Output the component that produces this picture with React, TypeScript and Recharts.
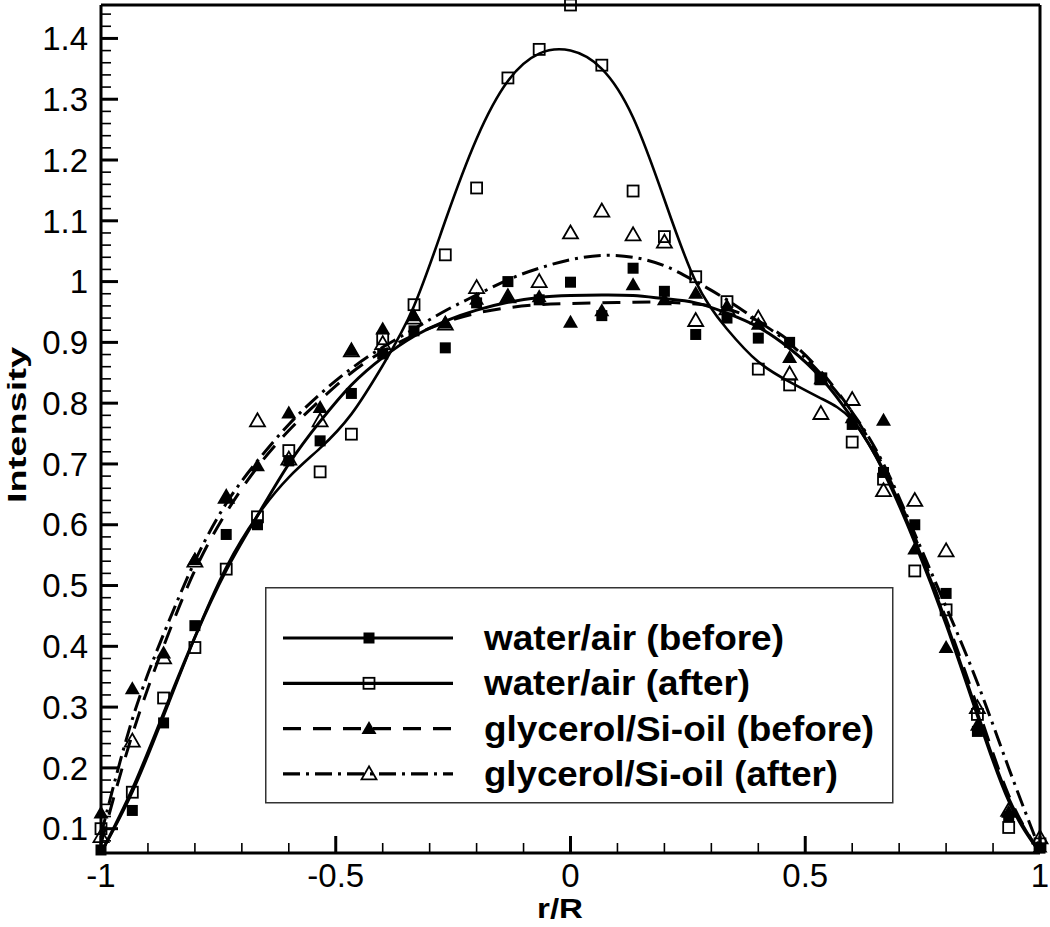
import React from 'react';
import { ComposedChart, Line, XAxis, YAxis, ReferenceLine, Legend } from 'recharts';

// r/R positions of the measured points
const rPos = [
  -1, -0.9333, -0.8667, -0.8, -0.7333, -0.6667, -0.6, -0.5333, -0.4667, -0.4, -0.3333,
  -0.2667, -0.2, -0.1333, -0.0667, 0, 0.0667, 0.1333, 0.2, 0.2667, 0.3333, 0.4, 0.4667,
  0.5333, 0.6, 0.6667, 0.7333, 0.8, 0.8667, 0.9333, 1,
];

// measured intensities (markers)
const waterBefore = [
  0.065, 0.13, 0.274, 0.434, 0.584, 0.6, 0.705, 0.738, 0.816, 0.881, 0.919, 0.891, 0.965,
  1.0, 0.97, 0.999, 0.944, 1.022, 0.984, 0.913, 0.94, 0.907, 0.9, 0.841, 0.765, 0.686, 0.6,
  0.487, 0.26, 0.12, 0.068,
];
const waterAfter = [
  0.1, 0.16, 0.315, 0.398, 0.527, 0.613, 0.722, 0.687, 0.749, 0.906, 0.962, 1.044, 1.154,
  1.335, 1.382, 1.455, 1.356, 1.149, 1.074, 1.008, 0.967, 0.856, 0.83, 0.84, 0.736, 0.675,
  0.524, 0.46, 0.288, 0.102, 0.075,
];
const glyBefore = [
  0.126, 0.33, 0.389, 0.543, 0.645, 0.697, 0.784, 0.793, 0.887, 0.922, 0.944, 0.932, 0.971,
  0.974, 0.975, 0.933, 0.952, 0.995, 0.97, 0.981, 0.96, 0.93, 0.875, 0.84, 0.776, 0.772,
  0.56, 0.398, 0.27, 0.127, 0.07,
];
const glyAfter = [
  0.087, 0.244, 0.381, 0.54, 0.645, 0.771, 0.708, 0.771, 0.886, 0.898, 0.94, 0.93, 0.99,
  0.975, 1.0, 1.08, 1.116, 1.077, 1.065, 0.936, 0.955, 0.94, 0.848, 0.783, 0.806, 0.656,
  0.64, 0.557, 0.299, 0.13, 0.085,
];

// fitted curves at the same r/R positions
const fitWaterBefore = [
  0.06, 0.165, 0.29, 0.415, 0.525, 0.615, 0.7, 0.77, 0.83, 0.875, 0.91, 0.935, 0.953, 0.966,
  0.974, 0.977, 0.978, 0.977, 0.972, 0.965, 0.948, 0.925, 0.89, 0.842, 0.775, 0.69, 0.575,
  0.44, 0.29, 0.15, 0.06,
];
const fitWaterAfter = [
  0.06, 0.16, 0.285, 0.415, 0.53, 0.615, 0.678, 0.726, 0.782, 0.862, 0.96, 1.1, 1.235, 1.33,
  1.375, 1.38, 1.35, 1.27, 1.135, 1.0, 0.922, 0.868, 0.835, 0.808, 0.772, 0.687, 0.57, 0.435,
  0.285, 0.145, 0.06,
];
const fitGlyBefore = [
  0.075, 0.255, 0.4, 0.525, 0.62, 0.695, 0.755, 0.805, 0.85, 0.885, 0.912, 0.933, 0.948,
  0.957, 0.962, 0.964, 0.965, 0.966, 0.966, 0.963, 0.955, 0.935, 0.902, 0.852, 0.785, 0.695,
  0.58, 0.445, 0.3, 0.155, 0.06,
];
const fitGlyAfter = [
  0.09, 0.28, 0.42, 0.54, 0.635, 0.705, 0.765, 0.815, 0.857, 0.892, 0.922, 0.952, 0.978,
  1.003, 1.022, 1.036, 1.043, 1.04, 1.026, 1.0, 0.97, 0.935, 0.898, 0.848, 0.785, 0.7,
  0.585, 0.465, 0.34, 0.2, 0.065,
];

const seriesNames = [
  'water/air (before)',
  'water/air (after)',
  'glycerol/Si-oil (before)',
  'glycerol/Si-oil (after)',
];

const xTicks = [
  -1, -0.9, -0.8, -0.7, -0.6, -0.5, -0.4, -0.3, -0.2, -0.1, 0, 0.1, 0.2, 0.3, 0.4, 0.5, 0.6,
  0.7, 0.8, 0.9, 1,
];
const xLabels = [-1, -0.5, 0, 0.5, 1];
const yLabels = [0.1, 0.2, 0.3, 0.4, 0.5, 0.6, 0.7, 0.8, 0.9, 1, 1.1, 1.2, 1.3, 1.4];
const yMin = 0.06;
const yMax = 1.455;

const yTicks: number[] = [];
for (let k = 3; k <= 72; k++) yTicks.push(Math.round(k * 2) / 100);

const data = rPos.map((r, i) => ({
  r,
  wb: waterBefore[i],
  wa: waterAfter[i],
  gb: glyBefore[i],
  ga: glyAfter[i],
  fwb: fitWaterBefore[i],
  fwa: fitWaterAfter[i],
  fgb: fitGlyBefore[i],
  fga: fitGlyAfter[i],
}));

const FONT = '"Liberation Sans", Arial, sans-serif';
const DASH = '18 12';
const DASHDOT = '17 6 3 6';

const isLabel = (v: number, list: number[]) => list.some((l) => Math.abs(l - v) < 1e-6);

const FilledSquare = ({ cx, cy }: any) => (
  <rect x={cx - 5.5} y={cy - 5.5} width={11} height={11} fill="#000" />
);
const OpenSquare = ({ cx, cy }: any) => (
  <rect x={cx - 5.5} y={cy - 5.5} width={11} height={11} fill="none" stroke="#000" strokeWidth={1.8} />
);
const FilledTriangle = ({ cx, cy }: any) => (
  <polygon points={`${cx},${cy - 7.5} ${cx - 7.5},${cy + 5.5} ${cx + 7.5},${cy + 5.5}`} fill="#000" />
);
const OpenTriangle = ({ cx, cy }: any) => (
  <polygon
    points={`${cx},${cy - 7.5} ${cx - 7.5},${cy + 5.5} ${cx + 7.5},${cy + 5.5}`}
    fill="none"
    stroke="#000"
    strokeWidth={1.8}
  />
);

const markerFor = (Comp: any, tag: string) => (p: any) =>
  p.cx == null || p.cy == null ? <g key={`${tag}-${p.index}`} /> : <Comp key={`${tag}-${p.index}`} cx={p.cx} cy={p.cy} />;

const YTick = (props: any) => {
  const { x, y, payload } = props;
  const major = isLabel(payload.value, yLabels);
  const ax = x + 13;
  return (
    <g>
      <line x1={ax} x2={ax + (major ? 17 : 10)} y1={y} y2={y} stroke="#000" strokeWidth={major ? 3 : 1.6} />
      {major && (
        <text x={x} y={y} dy="0.355em" textAnchor="end" fontFamily={FONT} fontSize={33} fill="#000">
          {String(payload.value)}
        </text>
      )}
    </g>
  );
};

const XTick = (props: any) => {
  const { x, y, payload } = props;
  const major = isLabel(payload.value, xLabels);
  const ay = y - 11;
  return (
    <g>
      <line x1={x} x2={x} y1={ay} y2={ay - (major ? 17 : 10)} stroke="#000" strokeWidth={major ? 3 : 1.6} />
      {major && (
        <text x={x} y={y} dy="0.71em" textAnchor="middle" fontFamily={FONT} fontSize={33} fill="#000">
          {String(payload.value)}
        </text>
      )}
    </g>
  );
};

const legendRows = [
  { name: seriesNames[0], dash: undefined, Marker: FilledSquare, len: 300 },
  { name: seriesNames[1], dash: undefined, Marker: OpenSquare, len: 266 },
  { name: seriesNames[2], dash: DASH, Marker: FilledTriangle, len: 390 },
  { name: seriesNames[3], dash: DASHDOT, Marker: OpenTriangle, len: 354 },
];

const LegendBox = () => (
  <svg width={629} height={217} style={{ display: 'block' }}>
    <rect x={0.75} y={0.75} width={627} height={215} fill="#fff" stroke="#333" strokeWidth={1.5} />
    {legendRows.map((row, i) => {
      const yc = 51 + i * 45.3;
      const M = row.Marker;
      return (
        <g key={row.name}>
          <line x1={18} x2={188} y1={yc} y2={yc} stroke="#000" strokeWidth={3.2} strokeDasharray={row.dash} />
          <M cx={104} cy={yc} />
          <text
            x={219}
            y={yc + 12}
            fontFamily={FONT}
            fontWeight="bold"
            fontSize={35}
            textLength={row.len}
            lengthAdjust="spacingAndGlyphs"
            fill="#000"
          >
            {row.name}
          </text>
        </g>
      );
    })}
  </svg>
);

export default function App() {
  return (
    <div style={{ position: 'absolute', left: 0, top: 0, width: 1050, height: 927, background: '#fff' }}>
      <ComposedChart
        width={1050}
        height={927}
        data={data}
        margin={{ top: 5, right: 10, bottom: 14, left: 41 }}
      >
        <XAxis
          dataKey="r"
          type="number"
          domain={[-1, 1]}
          ticks={xTicks}
          interval={0}
          tickSize={0}
          tickMargin={11}
          height={60}
          axisLine={{ stroke: '#000', strokeWidth: 3 }}
          tickLine={false}
          tick={<XTick />}
        />
        <YAxis
          type="number"
          domain={[yMin, yMax]}
          ticks={yTicks}
          interval={0}
          tickSize={0}
          tickMargin={13}
          width={60}
          axisLine={{ stroke: '#000', strokeWidth: 3 }}
          tickLine={false}
          tick={<YTick />}
        />
        <ReferenceLine y={yMax} stroke="#000" strokeWidth={3} />
        <ReferenceLine x={1} stroke="#000" strokeWidth={3} />

        <Line dataKey="fwb" name={seriesNames[0]} type="natural" stroke="#000" strokeWidth={3} dot={false} activeDot={false} isAnimationActive={false} legendType="none" />
        <Line dataKey="fwa" name={seriesNames[1]} type="natural" stroke="#000" strokeWidth={2.6} dot={false} activeDot={false} isAnimationActive={false} legendType="none" />
        <Line dataKey="fgb" name={seriesNames[2]} type="natural" stroke="#000" strokeWidth={3} strokeDasharray={DASH} dot={false} activeDot={false} isAnimationActive={false} legendType="none" />
        <Line dataKey="fga" name={seriesNames[3]} type="natural" stroke="#000" strokeWidth={3} strokeDasharray={DASHDOT} dot={false} activeDot={false} isAnimationActive={false} legendType="none" />

        <Line dataKey="wb" stroke="none" dot={markerFor(FilledSquare, 'wb')} activeDot={false} isAnimationActive={false} legendType="none" />
        <Line dataKey="wa" stroke="none" dot={markerFor(OpenSquare, 'wa')} activeDot={false} isAnimationActive={false} legendType="none" />
        <Line dataKey="gb" stroke="none" dot={markerFor(FilledTriangle, 'gb')} activeDot={false} isAnimationActive={false} legendType="none" />
        <Line dataKey="ga" stroke="none" dot={markerFor(OpenTriangle, 'ga')} activeDot={false} isAnimationActive={false} legendType="none" />

        <Legend
          layout="vertical"
          align="center"
          verticalAlign="middle"
          content={() => <LegendBox />}
          wrapperStyle={{ position: 'absolute', left: 265, top: 587, width: 629, height: 217 }}
        />
      </ComposedChart>
      <svg width={1050} height={927} style={{ position: 'absolute', left: 0, top: 0, pointerEvents: 'none' }}>
        <text
          transform="translate(26,425) rotate(-90)"
          textAnchor="middle"
          fontFamily={FONT}
          fontWeight="bold"
          fontSize={25}
          textLength={156}
          lengthAdjust="spacingAndGlyphs"
          fill="#000"
        >
          Intensity
        </text>
        <text
          x={560}
          y={918}
          textAnchor="middle"
          fontFamily={FONT}
          fontWeight="bold"
          fontSize={28}
          textLength={46}
          lengthAdjust="spacingAndGlyphs"
          fill="#000"
        >
          r/R
        </text>
      </svg>
    </div>
  );
}
